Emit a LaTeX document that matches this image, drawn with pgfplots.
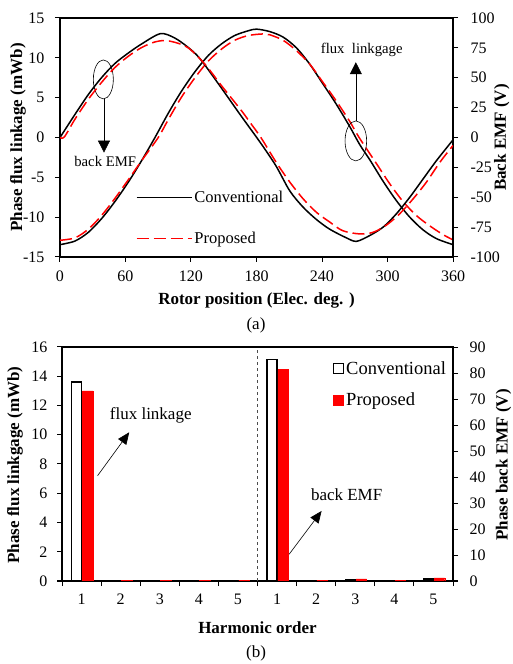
\documentclass[border=0pt]{standalone}
\usepackage{fontspec}
\setmainfont{Liberation Serif}
\usepackage{pgfplots}
\pgfplotsset{compat=1.18}
\usepackage{pgfplotstable}
\usetikzlibrary{arrows.meta}

\pgfplotstableread{
deg val
0 -13.45
13.7 -13.0
26 -11.9
38 -10.2
50 -8.1
62.6 -5.6
74.8 -2.9
87 0.0
99 3.0
111 5.75
123.6 8.25
135.9 10.3
148 11.75
160 12.8
172.5 13.4
180 13.6
192 13.3
204.4 12.6
216.6 11.25
228.8 9.2
241 6.7
253 4.2
265.5 1.35
274.6 -0.9
283.8 -2.8
296 -5.5
308 -7.9
320.4 -10.0
332.6 -11.6
344.9 -12.7
360 -13.45
}\fluxconv

\pgfplotstableread{
deg val
0 -12.9
13.7 -12.6
26 -11.5
38 -9.8
50 -7.7
62.6 -5.3
74.8 -2.9
90 0.0
99 2.2
111 5.0
123.6 7.5
135.9 9.6
148 11.1
160 12.2
172.5 12.8
186 13.0
192 12.9
204.4 12.2
216.6 10.9
228.8 9.2
241 6.9
253 4.6
265.5 2.0
274 0.0
290 -3.3
302 -5.8
314 -8.0
326.5 -9.8
338.8 -11.1
351 -12.2
360 -12.85
}\fluxprop

\pgfplotstableread{
deg val
0 0
13.7 19.3
26 36
38 50
50 61.7
62.6 70.7
74.8 78.3
92 86.9
105 83.3
117.5 75.3
128.2 66
146.6 43
164.9 19.3
180.2 0
186 -7.5
198 -24
210.5 -44.7
222.7 -58.3
235 -68.7
247 -76.7
262.4 -84
271.6 -86.9
283.8 -82
296 -75
308 -64
320.4 -50
332.6 -34.7
344.9 -19.3
360 -2
}\emfconv

\pgfplotstableread{
deg val
0 0
4 0.5
13.7 15.3
26 32
38 46
50 58.3
62.6 68
74.8 75.3
87 80
96 81.1
105 79.7
117.5 75
132.8 61.3
148 43.3
166 22.7
174 12.7
184 0
198 -20.7
210.5 -37.3
222.7 -51.3
235 -62.7
247 -70.7
259 -78
274.7 -80.7
286.9 -79.3
299 -73.3
311 -64
323.5 -51.3
335.7 -37.3
348 -20.7
360 -6.7
}\emfprop

% harmonic spectra: flux linkage (mWb), orders 1..5 at x=1..5
\pgfplotstableread{
x conv prop
1 13.6 13.0
2 0.05 0.04
3 0.04 0.04
4 0.04 0.03
5 0.03 0.03
}\fluxharm

% back EMF (V), orders 1..5 at x=6..10
\pgfplotstableread{
x conv prop
6 85.2 81.3
7 0.3 0.3
8 0.4 0.8
9 0.3 0.3
10 0.8 1.2
}\emfharm

\pgfplotsset{
  base/.style={
    scale only axis,
    tick align=outside,
    major tick length=5pt,
    axis line style={line width=1.5pt},
    every tick/.style={black, line width=1pt},
    /pgf/number format/assume math mode=true,
    tick label style={font=\fontsize{16}{18}\selectfont},
    label style={font=\bfseries\fontsize{17}{20}\selectfont},
  }
}

\begin{document}
\begin{tikzpicture}[font=\fontsize{16}{19}\selectfont]
\path[use as bounding box] (0pt,0pt) rectangle (512pt,664pt);

% ---------------- (a) top: flux linkage (left axis)
\begin{axis}[base,
  at={(60pt,407pt)}, anchor=south west, width=393pt, height=239pt,
  xmin=0, xmax=360, ymin=-15, ymax=15,
  xtick={0,60,...,360}, ytick={-15,-10,...,15},
  xtick pos=bottom, ytick pos=left,
  yticklabel style={xshift=-7pt},
  xticklabel style={yshift=-5pt},
  xlabel={Rotor position (Elec. deg. )},
  ylabel={Phase flux linkage (mWb)},
  xlabel style={at={(axis description cs:0.5,-0.18)}, anchor=center},
  ylabel style={at={(axis description cs:-0.107,0.5)}, anchor=center},
  legend style={draw=none, fill=none, at={(rel axis cs:0.185,0.293)}, anchor=north west,
    row sep=24pt, font=\fontsize{16.5}{19}\selectfont},
  legend cell align=left,
  legend image code/.code={\draw[#1] (0pt,0pt) -- (55pt,0pt);},
]
\addplot[black, line width=1.5pt, smooth] table[x=deg,y=val] {\fluxconv};
\addlegendentry{Conventional}
\addplot[red, line width=1.5pt, smooth, dash pattern=on 12pt off 5pt] table[x=deg,y=val] {\fluxprop};
\addlegendentry{Proposed}

\draw[line width=0.6pt] (axis cs:39.7,7.29) ellipse [x radius=10pt, y radius=19.5pt];
\draw[line width=0.6pt, -{Triangle[width=12pt,length=12pt]}] (axis cs:40.3,4.87) -- (axis cs:40.3,-1.9);
\node[font=\fontsize{14.7}{17}\selectfont] at (axis cs:41.4,-3.03) {back EMF};

\draw[line width=0.6pt] (axis cs:271,-0.43) ellipse [x radius=10.8pt, y radius=20pt];
\draw[line width=0.6pt, -{Triangle[width=12pt,length=12pt]}] (axis cs:271,2.1) -- (axis cs:271,9.45);
\node[font=\fontsize{14.7}{17}\selectfont] at (axis cs:276.4,10.95) {flux\ \ linkgage};
\end{axis}

% ---------------- (a) top: back EMF (right axis)
\begin{axis}[base,
  at={(60pt,407pt)}, anchor=south west, width=393pt, height=239pt,
  xmin=0, xmax=360, ymin=-100, ymax=100,
  axis x line=none, axis y line*=right,
  ytick={-100,-75,...,100},
  yticklabel style={xshift=9pt},
  ylabel={Back EMF (V)},
  ylabel style={at={(axis description cs:1.124,0.5)}, anchor=center},
]
\addplot[black, line width=1.5pt, smooth] table[x=deg,y=val] {\emfconv};
\addplot[red, line width=1.5pt, smooth, dash pattern=on 12pt off 5pt] table[x=deg,y=val] {\emfprop};
\end{axis}

\node[font=\fontsize{17}{20}\selectfont] at (256pt,339pt) {(a)};

% ---------------- (b) bottom: flux harmonics (left axis)
\begin{axis}[base,
  at={(62pt,83pt)}, anchor=south west, width=391pt, height=234pt,
  xmin=0.5, xmax=10.5, ymin=0, ymax=16,
  ytick={0,2,...,16},
  yticklabel style={xshift=-6pt},
  xtick={0.5,1.5,...,10.5}, xticklabels={},
  extra x ticks={1,2,3,4,5,6,7,8,9,10},
  extra x tick labels={1,2,3,4,5,1,2,3,4,5},
  extra x tick style={major tick length=0pt, tick label style={yshift=-9pt}},
  xtick pos=bottom, ytick pos=left,
  xlabel={Harmonic order},
  ylabel={Phase flux linkgage (mWb)},
  xlabel style={at={(axis description cs:0.5,-0.2)}, anchor=center},
  ylabel style={at={(axis description cs:-0.12,0.496)}, anchor=center},
  legend style={draw=none, fill=none, at={(rel axis cs:0.685,0.956)}, anchor=north west,
    row sep=13pt, font=\fontsize{18.5}{21}\selectfont},
  legend cell align=left,
]
\addplot[ybar, bar width=10pt, bar shift=-5pt, draw=black, fill=white, line width=1.2pt,
  legend image code/.code={\draw[black, fill=white, line width=1.2pt] (0pt,-5pt) rectangle (10pt,5pt);}]
  table[x=x,y=conv] {\fluxharm};
\addlegendentry{Conventional}
\addplot[ybar, bar width=10.5pt, bar shift=6pt, draw=red, fill=red, line width=0.3pt,
  legend image code/.code={\draw[red, fill=red] (0pt,-5pt) rectangle (10pt,5pt);}]
  table[x=x,y=prop] {\fluxharm};
\addlegendentry{Proposed}

\draw[dashed, line width=0.6pt, black!70] (axis cs:5.5,0) -- (axis cs:5.5,16);

\node[font=\fontsize{17}{20}\selectfont] at (axis cs:2.77,11.35) {flux linkage};
\draw[line width=0.6pt, -{Triangle[width=10pt,length=12pt]}] (axis cs:1.41,7.2) -- (axis cs:2.22,10.17);
\node[font=\fontsize{17}{20}\selectfont] at (axis cs:7.78,5.88) {back EMF};
\draw[line width=0.6pt, -{Triangle[width=10pt,length=12pt]}] (axis cs:6.31,1.83) -- (axis cs:7.14,4.79);
\end{axis}

% ---------------- (b) bottom: back EMF harmonics (right axis)
\begin{axis}[base,
  at={(62pt,83pt)}, anchor=south west, width=391pt, height=234pt,
  xmin=0.5, xmax=10.5, ymin=0, ymax=90,
  axis x line=none, axis y line*=right,
  ytick={0,10,...,90},
  yticklabel style={xshift=8pt},
  ylabel={Phase back EMF (V)},
  ylabel style={at={(axis description cs:1.129,0.496)}, anchor=center},
]
\addplot[ybar, bar width=10pt, bar shift=-5pt, draw=black, fill=white, line width=1.2pt]
  table[x=x,y=conv] {\emfharm};
\addplot[ybar, bar width=10.5pt, bar shift=6pt, draw=red, fill=red, line width=0.3pt]
  table[x=x,y=prop] {\emfharm};
\end{axis}

\node[font=\fontsize{17}{20}\selectfont] at (256pt,11pt) {(b)};
\end{tikzpicture}
\end{document}
